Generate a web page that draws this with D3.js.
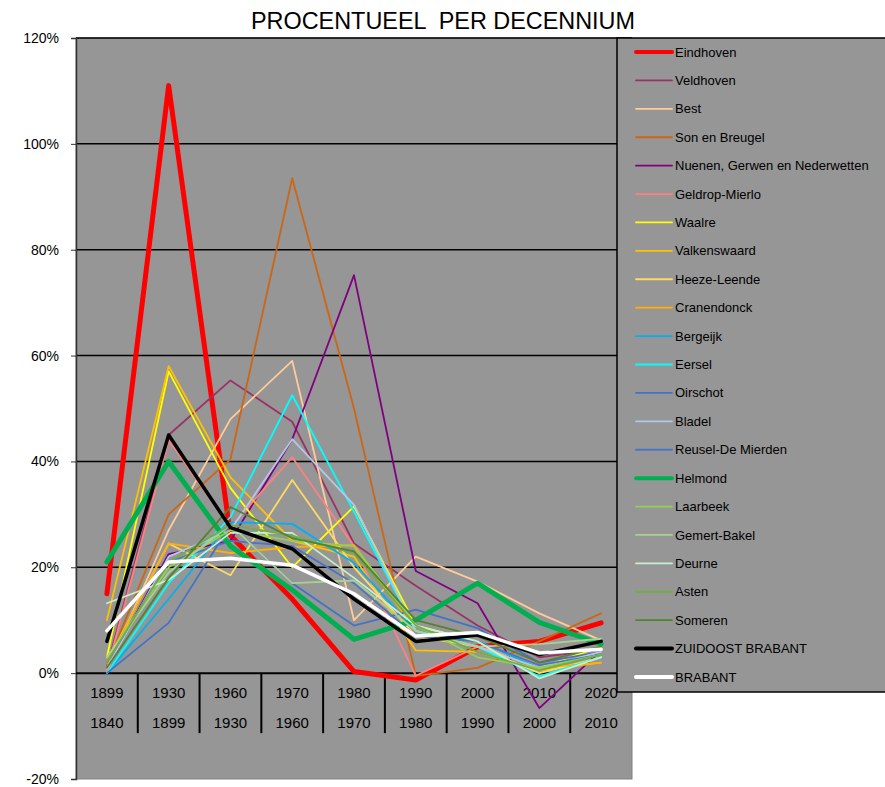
<!DOCTYPE html>
<html>
<head>
<meta charset="utf-8">
<script src="https://cdn.jsdelivr.net/npm/d3@7/dist/d3.min.js"></script>
<style>
  html, body { margin: 0; padding: 0; background: #ffffff; }
  svg { display: block; font-family: Arial, "Liberation Sans", sans-serif; }
</style>
</head>
<body>
<svg id="chart" width="885" height="787"></svg>
<script>
// Period labels: end year (top row) and start year (bottom row)
const periodEnd   = ["1899", "1930", "1960", "1970", "1980", "1990", "2000", "2010", "2020"];
const periodStart = ["1840", "1899", "1930", "1960", "1970", "1980", "1990", "2000", "2010"];
const yTicks = [-20, 0, 20, 40, 60, 80, 100, 120];

// Growth per period, in percent
const eindhoven     = [15, 111, 26, 14, 0.3, -1.3, 5, 6, 9.5];
const veldhoven     = [1, 45, 55.3, 47.5, 24.5, 16.5, 9, 3, 4.5];
const best          = [0.5, 27, 48, 59, 10, 22, 17.3, 11.3, 6.2];
const sonEnBreugel  = [1.5, 30, 40.4, 93.5, 50, -0.5, 1, 6, 11.3];
const nuenen        = [1, 22.5, 25, 44.2, 75.2, 19.3, 13.2, -6.6, 4.3];
const geldropMierlo = [0.5, 44, 27.6, 40.8, 24, -0.5, 5, 2, 4];
const waalre        = [3, 57, 35, 20, 31.5, 9, 6, 1, 5];
const valkenswaard  = [10, 58, 37, 25, 22, 4.3, 4, 0.5, 2];
const heezeLeende   = [2, 24.5, 18.5, 36.5, 20, 7, 5, 0, 3];
const cranendonck   = [2, 24.5, 22.7, 23.8, 24.2, 8, 5, 1, 2];
const bergeijk      = [0, 14, 28.5, 28.2, 20.8, 8, 6, 1, 3.5];
const eersel        = [0, 17, 29.5, 52.5, 30.5, 8, 5, -0.6, 3];
const oirschot      = [0, 9.5, 28, 17, 9, 12, 8.5, 2, 4];
const bladel        = [1, 22, 27, 44.2, 31.8, 8, 5, 1, 4];
const reusel        = [2, 21, 25, 24, 17, 7, 6, 1.5, 3.5];
const helmond       = [21, 40, 24, 15.7, 6.4, 10, 17, 9.6, 5.5];
const laarbeek      = [3, 20, 27, 25, 24, 9, 3, 1, 3.5];
const gemertBakel   = [3, 19, 28, 17, 17.5, 8, 5, 5.5, 6.5];
const deurne        = [13.2, 17.6, 26.5, 26.5, 18, 9, 6, -1, 3];
const asten         = [2, 21, 28, 26, 22.6, 9, 4, 0.5, 3.5];
const someren       = [1, 18, 31.4, 25.5, 23, 10, 7, 2, 5];
const zoBrabant     = [6, 45, 27.5, 23.5, 14, 6, 7.2, 3.5, 6];
const brabant       = [8, 21, 21.7, 20.4, 15, 7, 7.7, 3.8, 4.5];

const seriesNames = [
  "Eindhoven", "Veldhoven", "Best", "Son en Breugel", "Nuenen, Gerwen en Nederwetten",
  "Geldrop-Mierlo", "Waalre", "Valkenswaard", "Heeze-Leende", "Cranendonck",
  "Bergeijk", "Eersel", "Oirschot", "Bladel", "Reusel-De Mierden", "Helmond",
  "Laarbeek", "Gemert-Bakel", "Deurne", "Asten", "Someren", "ZUIDOOST BRABANT", "BRABANT"
];
const seriesValues = [
  eindhoven, veldhoven, best, sonEnBreugel, nuenen, geldropMierlo, waalre, valkenswaard,
  heezeLeende, cranendonck, bergeijk, eersel, oirschot, bladel, reusel, helmond,
  laarbeek, gemertBakel, deurne, asten, someren, zoBrabant, brabant
];
const seriesColors = [
  "#ff0000", "#993366", "#ffcc99", "#cc6614", "#800080", "#ff8080", "#ffff00", "#ffc000",
  "#ffd966", "#ffb000", "#00b0f0", "#00ffff", "#4472c4", "#b4c7e7", "#4a74c8", "#00b050",
  "#92d050", "#a9d18e", "#c6efce", "#70ad47", "#548235", "#000000", "#ffffff"
];
const seriesWidths = [
  5, 1.8, 1.8, 1.8, 1.8, 1.8, 1.8, 1.8, 1.8, 1.8, 1.8, 1.8, 1.8, 1.8, 1.8, 5,
  1.8, 1.8, 1.8, 1.8, 1.8, 3.5, 3.5
];

const svg = d3.select("#chart");
const plot = { left: 76, right: 632, top: 38, bottom: 779 };

const x = d3.scaleBand().domain(periodEnd).range([plot.left, plot.right]);
const y = d3.scaleLinear().domain([-20, 120]).range([plot.bottom, plot.top]);

// Title
svg.append("text")
  .attr("x", 443).attr("y", 29)
  .attr("text-anchor", "middle")
  .attr("font-size", 23)
  .attr("fill", "#000")
  .attr("textLength", 384)
  .attr("lengthAdjust", "spacingAndGlyphs")
  .attr("xml:space", "preserve")
  .text("PROCENTUEEL  PER DECENNIUM");

// Plot area
svg.append("rect")
  .attr("x", plot.left).attr("y", plot.top)
  .attr("width", plot.right - plot.left).attr("height", plot.bottom - plot.top)
  .attr("fill", "#969696")
  .attr("stroke", "#808080").attr("stroke-width", 1);

// Gridlines
svg.append("g").selectAll("line")
  .data(yTicks.filter(d => d > 0))
  .join("line")
  .attr("x1", plot.left).attr("x2", plot.right)
  .attr("y1", d => y(d)).attr("y2", d => y(d))
  .attr("stroke", "#000").attr("stroke-width", 1.5);

// Y axis
const yAxis = svg.append("g")
  .attr("transform", `translate(${plot.left},0)`)
  .call(d3.axisLeft(y).tickValues(yTicks).tickFormat(d => d + "%").tickSize(5).tickPadding(12));
yAxis.select(".domain").attr("stroke", "#333").attr("stroke-width", 1.5);
yAxis.selectAll(".tick line").attr("stroke", "#333");
yAxis.selectAll("text").attr("font-size", 14).attr("fill", "#000")
  .attr("font-family", "Arial, 'Liberation Sans', sans-serif");

// Category axis: zero line, two-row labels, band dividers
svg.append("line")
  .attr("x1", plot.left).attr("x2", plot.right)
  .attr("y1", y(0)).attr("y2", y(0))
  .attr("stroke", "#000").attr("stroke-width", 2);

const xAxis = svg.append("g");
xAxis.selectAll("line.divider")
  .data(periodEnd.slice(1))
  .join("line")
  .attr("class", "divider")
  .attr("x1", d => x(d)).attr("x2", d => x(d))
  .attr("y1", y(0)).attr("y2", y(0) + 60)
  .attr("stroke", "#000").attr("stroke-width", 2);
xAxis.selectAll("text.top")
  .data(periodEnd)
  .join("text")
  .attr("class", "top")
  .attr("x", d => x(d) + x.bandwidth() / 2)
  .attr("y", y(0) + 25)
  .attr("text-anchor", "middle").attr("font-size", 15)
  .text(d => d);
xAxis.selectAll("text.bottom")
  .data(periodStart)
  .join("text")
  .attr("class", "bottom")
  .attr("x", (d, i) => x(periodEnd[i]) + x.bandwidth() / 2)
  .attr("y", y(0) + 55)
  .attr("text-anchor", "middle").attr("font-size", 15)
  .text(d => d);

// Series lines
const line = d3.line()
  .x((d, i) => x(periodEnd[i]) + x.bandwidth() / 2)
  .y(d => y(d));

svg.append("g").selectAll("path")
  .data(seriesValues)
  .join("path")
  .attr("d", d => line(d))
  .attr("fill", "none")
  .attr("stroke", (d, i) => seriesColors[i])
  .attr("stroke-width", (d, i) => seriesWidths[i])
  .attr("stroke-linejoin", "round")
  .attr("stroke-linecap", "round");

// Legend
const legend = svg.append("g");
legend.append("rect")
  .attr("x", 617).attr("y", 38)
  .attr("width", 290).attr("height", 654)
  .attr("fill", "#969696")
  .attr("stroke", "#000").attr("stroke-width", 1.5);

const legendY = d3.scalePoint().domain(seriesNames).range([52, 677]);
const items = legend.selectAll("g.item")
  .data(seriesNames)
  .join("g")
  .attr("class", "item")
  .attr("transform", d => `translate(0,${legendY(d)})`);
items.append("line")
  .attr("x1", 636).attr("x2", 672)
  .attr("stroke", (d, i) => seriesColors[i])
  .attr("stroke-width", (d, i) => seriesWidths[i] >= 3.5 ? 4 : 1.8)
  .attr("stroke-linecap", "round");
items.append("text")
  .attr("x", 675).attr("dy", "0.35em")
  .attr("font-size", 13).attr("fill", "#000")
  .text(d => d);
</script>
</body>
</html>
